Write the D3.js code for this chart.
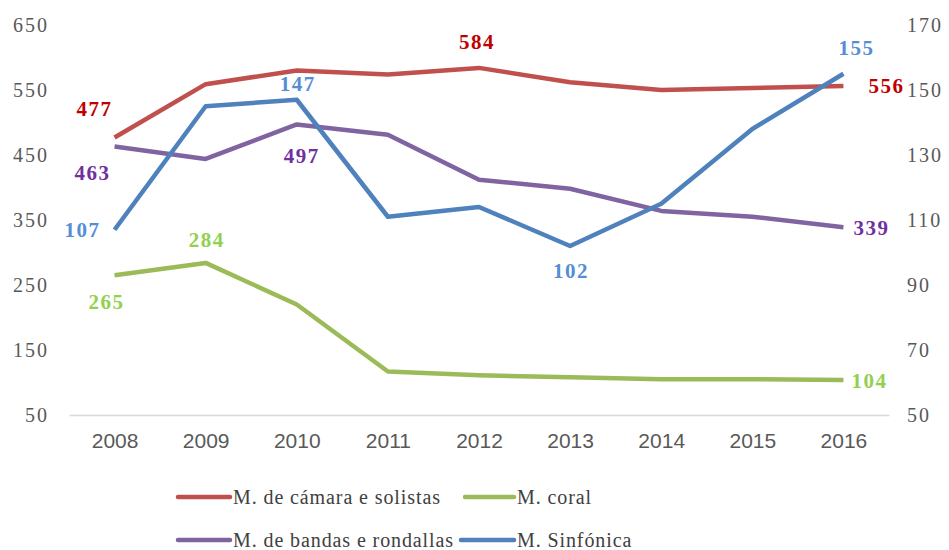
<!DOCTYPE html>
<html>
<head>
<meta charset="utf-8">
<script src="https://cdn.jsdelivr.net/npm/d3@7"></script>
<style>
  body { margin: 0; background: #fff; }
</style>
</head>
<body>
<div id="chart"></div>
<script>
const years = ["2008", "2009", "2010", "2011", "2012", "2013", "2014", "2015", "2016"];
const camara = [477, 559, 580, 574, 584, 562, 550, 553, 556];
const coral = [265, 284, 220, 117, 111, 108, 105, 105, 104];
const bandas = [463, 444, 497, 481, 412, 398, 364, 355, 339];
const sinfonica = [107, 145, 147, 111, 114, 102, 115, 138, 155];
const leftTicks = [50, 150, 250, 350, 450, 550, 650];
const rightTicks = [50, 70, 90, 110, 130, 150, 170];

const SERIF = "'Liberation Serif', 'Times New Roman', serif";
const SANS = "'Liberation Sans', Arial, sans-serif";

const series = [
    { name: "M. de cámara e solistas", values: camara, axis: "left", color: "#C0504D", labelColor: "#C00000" },
    { name: "M. coral", values: coral, axis: "left", color: "#9BBB59", labelColor: "#92D050" },
    { name: "M. de bandas e rondallas", values: bandas, axis: "left", color: "#8064A2", labelColor: "#7030A0" },
    { name: "M. Sinfónica", values: sinfonica, axis: "right", color: "#4F81BD", labelColor: "#558ED5" }
];

// which points get a value label, and where it sits relative to the point
const labels = [
    { s: 0, i: 0, dx: -21, dy: -28 },
    { s: 0, i: 4, dx: -3, dy: -26 },
    { s: 0, i: 8, dx: 42, dy: 0 },
    { s: 1, i: 0, dx: -9, dy: 27 },
    { s: 1, i: 1, dx: 0, dy: -23 },
    { s: 1, i: 8, dx: 25, dy: 1 },
    { s: 2, i: 0, dx: -23, dy: 26 },
    { s: 2, i: 2, dx: 4, dy: 32 },
    { s: 2, i: 8, dx: 27, dy: 1 },
    { s: 3, i: 0, dx: -33, dy: 0 },
    { s: 3, i: 2, dx: 0, dy: -16 },
    { s: 3, i: 5, dx: 0, dy: 25 },
    { s: 3, i: 8, dx: 12, dy: -26 }
];

const width = 949, height = 550;
const margin = { top: 25, right: 60, bottom: 135, left: 69 };

const svg = d3.select("#chart").append("svg")
    .attr("width", width)
    .attr("height", height);

const x = d3.scalePoint()
    .domain(years)
    .range([margin.left, width - margin.right])
    .padding(0.5);

const yLeft = d3.scaleLinear()
    .domain([50, 650])
    .range([height - margin.bottom, margin.top]);

const yRight = d3.scaleLinear()
    .domain([50, 170])
    .range([height - margin.bottom, margin.top]);

function styleTicks(g, font, size, spacing) {
    g.attr("font-family", null);
    g.selectAll("text")
        .style("font-family", font)
        .style("font-size", size)
        .style("letter-spacing", spacing)
        .attr("fill", "#595959");
}

// left axis
const leftAxis = svg.append("g")
    .attr("transform", `translate(49,0)`)
    .call(d3.axisLeft(yLeft).tickValues(leftTicks).tickSize(0).tickPadding(0));
leftAxis.select(".domain").remove();
styleTicks(leftAxis, SERIF, "20px", "2px");

// right axis
const rightAxis = svg.append("g")
    .attr("transform", `translate(907,0)`)
    .call(d3.axisRight(yRight).tickValues(rightTicks).tickSize(0).tickPadding(0));
rightAxis.select(".domain").remove();
styleTicks(rightAxis, SERIF, "20px", "2px");

// bottom axis
const xAxis = svg.append("g")
    .attr("transform", `translate(0,${height - margin.bottom})`)
    .call(d3.axisBottom(x).tickSize(0).tickPadding(18));
xAxis.select(".domain").attr("stroke", "#D9D9D9").attr("stroke-width", 1.3);
styleTicks(xAxis, SANS, "21px", "0px");

// lines
series.forEach(s => {
    const y = s.axis === "left" ? yLeft : yRight;
    const line = d3.line()
        .x((d, i) => x(years[i]))
        .y(d => y(d));
    svg.append("path")
        .datum(s.values)
        .attr("fill", "none")
        .attr("stroke", s.color)
        .attr("stroke-width", 4.5)
        .attr("stroke-linejoin", "round")
        .attr("d", line);
});

// value labels
svg.selectAll(".vlabel")
    .data(labels)
    .enter()
    .append("text")
    .attr("class", "vlabel")
    .attr("x", d => x(years[d.i]) + d.dx + 1)
    .attr("y", d => {
        const s = series[d.s];
        const y = s.axis === "left" ? yLeft : yRight;
        return y(s.values[d.i]) + d.dy;
    })
    .attr("text-anchor", "middle")
    .attr("dominant-baseline", "central")
    .style("font-family", SERIF)
    .style("font-size", "21px")
    .style("font-weight", "bold")
    .style("letter-spacing", "1.5px")
    .attr("fill", d => series[d.s].labelColor)
    .text(d => series[d.s].values[d.i]);

// legend (line start / text start per entry)
const legendPos = [
    { x0: 178, x1: 230, y: 497 },
    { x0: 465, x1: 514, y: 497 },
    { x0: 178, x1: 230, y: 540 },
    { x0: 461, x1: 514, y: 540 }
];
const legend = svg.selectAll(".legend")
    .data(series)
    .enter()
    .append("g")
    .attr("class", "legend")
    .attr("transform", (d, i) => `translate(0,${legendPos[i].y})`);

legend.append("line")
    .attr("x1", (d, i) => legendPos[i].x0)
    .attr("x2", (d, i) => legendPos[i].x1)
    .attr("stroke", d => d.color)
    .attr("stroke-width", 4.5)
    .attr("stroke-linecap", "round");

legend.append("text")
    .attr("x", (d, i) => legendPos[i].x1 + 3)
    .attr("dominant-baseline", "central")
    .style("font-family", SERIF)
    .style("font-size", "20px")
    .style("letter-spacing", "0.9px")
    .attr("fill", "#404040")
    .text(d => d.name);
</script>
</body>
</html>
